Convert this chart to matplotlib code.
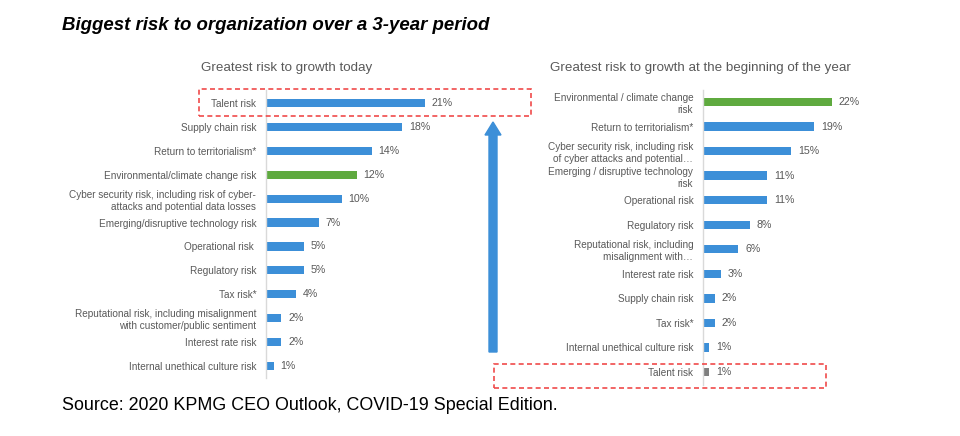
import matplotlib.pyplot as plt
from matplotlib.patches import Rectangle, FancyArrow
from matplotlib.transforms import IdentityTransform

plt.rcParams['font.family'] = ['Liberation Sans', 'DejaVu Sans']

# greatest risk to growth today
today_labels = ["Talent risk", "Supply chain risk", "Return to territorialism*",
                "Environmental/climate change risk",
                "Cyber security risk, including risk of cyber-\nattacks and potential data losses",
                "Emerging/disruptive technology risk", "Operational risk ",
                "Regulatory risk", "Tax risk*",
                "Reputational risk, including misalignment\nwith customer/public sentiment",
                "Interest rate risk", "Internal unethical culture risk"]
today_values = [21, 18, 14, 12, 10, 7, 5, 5, 4, 2, 2, 1]
today_colors = ["blue", "blue", "blue", "green", "blue", "blue", "blue",
                "blue", "blue", "blue", "blue", "blue"]

# greatest risk to growth at the beginning of the year
begin_labels = ["Environmental / climate change\nrisk", "Return to territorialism*",
                "Cyber security risk, including risk\nof cyber attacks and potential\u2026",
                "Emerging / disruptive technology\nrisk", "Operational risk",
                "Regulatory risk", "Reputational risk, including\nmisalignment with\u2026",
                "Interest rate risk", "Supply chain risk", "Tax risk*",
                "Internal unethical culture risk", "Talent risk"]
begin_values = [22, 19, 15, 11, 11, 8, 6, 3, 2, 2, 1, 1]
begin_colors = ["green", "blue", "blue", "blue", "blue", "blue", "blue",
                "blue", "blue", "blue", "blue", "gray"]

palette = {"blue": "#3C8FD8", "green": "#5FAA3F", "gray": "#7F7F7F"}
text_gray = "#595959"

W, H = 960, 436
fig = plt.figure(figsize=(W / 100, H / 100), dpi=100)


def px_axes(x0, y0, x1, y1):
    return fig.add_axes([x0 / W, 1 - y1 / H, (x1 - x0) / W, (y1 - y0) / H])


def draw_panel(ax, labels, values, colors, ylim, xmax, title_x, title):
    pos = list(range(len(labels)))
    ax.barh(pos, values, height=0.34, color=[palette[c] for c in colors])
    ax.set_ylim(*ylim)
    ax.set_xlim(0, xmax)
    ax.set_yticks(pos)
    ax.set_yticklabels(labels, fontsize=7.2, color=text_gray, linespacing=1.25)
    ax.tick_params(axis='y', length=0, pad=7)
    ax.set_xticks([])
    for s in ["top", "right", "bottom"]:
        ax.spines[s].set_visible(False)
    ax.spines["left"].set_color("#D9D9D9")
    ax.spines["left"].set_linewidth(1.0)
    for p, v in zip(pos, values):
        ax.annotate(f"{v}%", (v, p), xytext=(5, 0), textcoords="offset points",
                    ha="left", va="center", fontsize=7.7, color=text_gray)
    fig.text(title_x / W, 1 - 68 / H, title, ha="center", va="center",
             fontsize=9.6, color=text_gray)


ax1 = px_axes(266, 90, 466, 378)
draw_panel(ax1, today_labels, today_values, today_colors, (11.5, -0.54),
           200 / 7.55, 287, "Greatest risk to growth today")

ax2 = px_axes(703, 90, 853, 385)
draw_panel(ax2, begin_labels, begin_values, begin_colors, (11.53, -0.49),
           150 / 5.86, 700, "Greatest risk to growth at the beginning of the year")

fig.text(62 / W, 1 - 26 / H, "Biggest risk to organization over a 3-year period",
         ha="left", va="center", fontsize=13.4, fontweight="bold",
         fontstyle="italic", color="black")
fig.text(62 / W, 1 - 405 / H, "Source: 2020 KPMG CEO Outlook, COVID-19 Special Edition.",
         ha="left", va="center", fontsize=12.9, color="black")

# highlight boxes
for x0, y0, x1, y1 in [(199, 89, 531, 116), (494, 364, 826, 388)]:
    fig.patches.append(Rectangle((x0 / W, 1 - y1 / H), (x1 - x0) / W, (y1 - y0) / H,
                                 transform=fig.transFigure, fill=False,
                                 edgecolor="#F04A4A", linewidth=1.2,
                                 linestyle=(0, (3, 2))))

# upward arrow
fig.patches.append(FancyArrow(493, H - 352, 0, 352 - 122, width=8, head_width=16,
                              head_length=13, length_includes_head=True,
                              color=palette["blue"], transform=IdentityTransform()))

fig.savefig("out.png", dpi=100)
